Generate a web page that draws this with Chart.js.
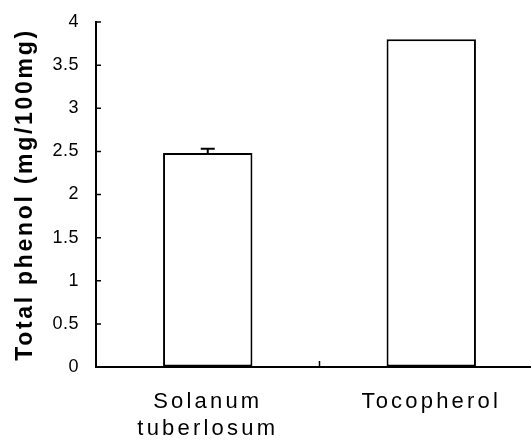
<!DOCTYPE html>
<html>
<head>
<meta charset="utf-8">
<script src="https://cdn.jsdelivr.net/npm/chart.js@4.4.1/dist/chart.umd.min.js"></script>
<style>
  html, body { margin: 0; padding: 0; background: #fff; overflow: hidden; }
  #wrap { width: 543px; height: 440px; }
</style>
</head>
<body>
<div id="wrap"><canvas id="chart-phenol" width="543" height="440"></canvas></div>
<script>
// data
const categories = [["Solanum", "tuberlosum"], "Tocopherol"];
const phenolValues = [2.48, 3.8];
const phenolErrors = [0.05, 0];
const yTicks = [0, 0.5, 1, 1.5, 2, 2.5, 3, 3.5, 4];

// scanned text is spaced out, so widen letters per axis part
const textSpacing = {
  x: { labels: "3.2px", title: "0px" },
  y: { labels: "0.5px", title: "2.7px" }
};
const letterSpacingPlugin = {
  id: "letterSpacing",
  afterLayout(chart) {
    Object.values(chart.scales).forEach(function (scale) {
      if (scale._spaced) return;
      scale._spaced = true;
      const spacing = textSpacing[scale.id];
      ["drawLabels", "drawTitle"].forEach(function (fn) {
        const orig = scale[fn];
        const key = fn === "drawLabels" ? "labels" : "title";
        scale[fn] = function () {
          const ctx = this.ctx;
          ctx.save();
          ctx.letterSpacing = spacing[key];
          orig.apply(this, arguments);
          ctx.restore();
        };
      });
    });
  }
};

// short tick marks pointing into the plot, like the original
const innerTicksPlugin = {
  id: "innerTicks",
  afterDraw(chart) {
    const ctx = chart.ctx;
    const area = chart.chartArea;
    const y = chart.scales.y;
    const x = chart.scales.x;
    ctx.save();
    ctx.strokeStyle = "#000";
    ctx.lineWidth = 1.5;
    ctx.beginPath();
    for (let i = 0; i < y.ticks.length; i++) {
      const py = y.getPixelForTick(i);
      ctx.moveTo(area.left, py);
      ctx.lineTo(area.left + 5, py);
    }
    // boundary between the two categories
    for (let i = 0; i < categories.length - 1; i++) {
      const px = (x.getPixelForValue(i) + x.getPixelForValue(i + 1)) / 2;
      ctx.moveTo(px, area.bottom);
      ctx.lineTo(px, area.bottom - 6);
    }
    ctx.stroke();
    ctx.restore();
  }
};

// upper half of the error bar (the lower half is hidden by the bar)
const errorBarPlugin = {
  id: "errorBars",
  afterDatasetsDraw(chart) {
    const ctx = chart.ctx;
    const meta = chart.getDatasetMeta(0);
    const y = chart.scales.y;
    ctx.save();
    ctx.strokeStyle = "#000";
    ctx.lineWidth = 2;
    meta.data.forEach(function (bar, i) {
      const err = phenolErrors[i];
      if (!err) return;
      const top = y.getPixelForValue(phenolValues[i] + err);
      const base = y.getPixelForValue(phenolValues[i]);
      ctx.beginPath();
      ctx.moveTo(bar.x, base);
      ctx.lineTo(bar.x, top);
      ctx.moveTo(bar.x - 7, top);
      ctx.lineTo(bar.x + 7, top);
      ctx.stroke();
    });
    ctx.restore();
  }
};

new Chart(document.getElementById("chart-phenol"), {
  type: "bar",
  data: {
    labels: categories,
    datasets: [{
      label: "Total phenol",
      data: phenolValues,
      backgroundColor: "#fff",
      borderColor: "#000",
      borderWidth: 2,
      borderSkipped: false,
      categoryPercentage: 1,
      barPercentage: 0.4
    }]
  },
  options: {
    responsive: false,
    animation: false,
    devicePixelRatio: 1,
    layout: { padding: { left: 0, top: 22, right: 0, bottom: 0 } },
    plugins: {
      legend: { display: false },
      tooltip: { enabled: false }
    },
    scales: {
      x: {
        grid: { display: true, drawOnChartArea: false, drawTicks: false },
        border: { color: "#000", width: 2 },
        ticks: {
          color: "#000",
          padding: 21,
          maxRotation: 0,
          font: { family: "Liberation Sans", size: 22, lineHeight: "27px" }
        },
        afterFit(scale) {
          scale.height = 73;
          scale.paddingLeft = 0;
          scale.paddingRight = 0;
        }
      },
      y: {
        min: 0,
        max: 4,
        afterBuildTicks(scale) {
          scale.ticks = yTicks.map(function (v) { return { value: v }; });
        },
        grid: { drawOnChartArea: false, drawTicks: false },
        border: { color: "#000", width: 2 },
        ticks: {
          color: "#000",
          padding: 17,
          font: { family: "Liberation Sans", size: 18 },
          callback: function (val) { return String(val); }
        },
        title: {
          display: true,
          text: "Total phenol (mg/100mg)",
          color: "#000",
          padding: { top: 12, bottom: 0 },
          font: { family: "Liberation Sans", size: 23, weight: "bold" }
        },
        afterFit(scale) {
          scale.width = 96;
          scale.paddingTop = 0;
          scale.paddingBottom = 0;
        }
      }
    }
  },
  plugins: [letterSpacingPlugin, innerTicksPlugin, errorBarPlugin]
});
</script>
</body>
</html>
